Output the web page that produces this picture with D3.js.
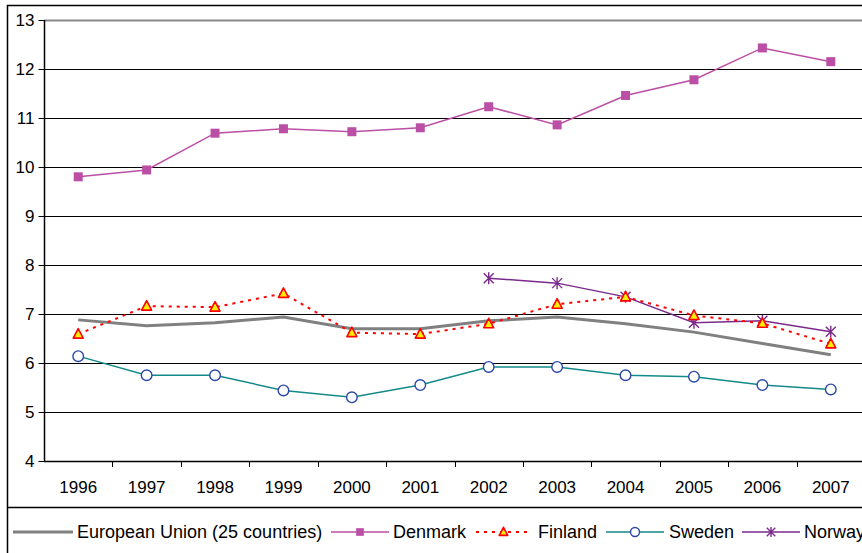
<!DOCTYPE html>
<html><head><meta charset="utf-8">
<script src="https://cdn.jsdelivr.net/npm/d3@7"></script>
<style>body{margin:0;background:#fff}svg{display:block}text{font-family:"Liberation Sans",Arial,sans-serif}</style>
</head><body>
<svg id="c" width="862" height="553"></svg>
<script>
const years = ["1996","1997","1998","1999","2000","2001","2002","2003","2004","2005","2006","2007"];
const yTicks = [4,5,6,7,8,9,10,11,12,13];
const eu      = [6.88,6.76,6.82,6.94,6.70,6.70,6.86,6.94,6.80,6.63,6.40,6.17];
const denmark = [9.80,9.94,10.69,10.78,10.72,10.80,11.23,10.86,11.46,11.78,12.43,12.15];
const finland = [6.59,7.16,7.14,7.42,6.62,6.59,6.80,7.20,7.35,6.97,6.81,6.39];
const sweden  = [6.14,5.75,5.75,5.44,5.30,5.55,5.92,5.92,5.75,5.72,5.55,5.46];
const norway  = [null,null,null,null,null,null,7.73,7.63,7.35,6.82,6.86,6.64];
const seriesNames = ["European Union (25 countries)","Denmark","Finland","Sweden","Norway"];

const svg = d3.select("#c");
const L = 44, T = 20, B = 461, R = 865;
const x = d3.scaleBand().domain(years).range([L, R]);
const y = d3.scaleLinear().domain([4,13]).range([B, T]);

// outer frame
svg.append("path").attr("d","M7.5,553 V5.5 H870").attr("fill","none").attr("stroke","#000").attr("stroke-width",1.5);
svg.append("line").attr("x1",7).attr("x2",870).attr("y1",507.5).attr("y2",507.5).attr("stroke","#000").attr("stroke-width",1.5);

// gridlines
svg.append("g").selectAll("line").data(yTicks.filter(d=>d>4)).join("line")
  .attr("x1",L).attr("x2",R).attr("y1",d=>Math.round(y(d))+0.5).attr("y2",d=>Math.round(y(d))+0.5)
  .attr("stroke",d=>d===13?"#888":"#000").attr("stroke-width",d=>d===13?2:1);

// y axis
const ya = svg.append("g").attr("transform",`translate(${L+0.5},0)`)
  .call(d3.axisLeft(y).tickValues(yTicks).tickSize(6).tickPadding(4).tickFormat(d3.format("d")));
ya.select(".domain").attr("stroke","#000").attr("stroke-width",1.5).attr("d",`M0,${T}V${B}`);
ya.selectAll("text").attr("font-size",17).attr("fill","#000").attr("font-family","Liberation Sans, Arial, sans-serif");
ya.selectAll(".tick line").attr("stroke","#000");

// x axis
const xa = svg.append("g").attr("transform",`translate(0,${B+0.5})`)
  .call(d3.axisBottom(x).tickSize(0).tickPadding(19));
xa.select(".domain").attr("stroke","#000").attr("stroke-width",1.5).attr("d",`M${L},0H${R}`);
xa.selectAll("text").attr("font-size",17).attr("fill","#000").attr("font-family","Liberation Sans, Arial, sans-serif");
svg.append("g").selectAll("line").data(years.slice(1)).join("line")
  .attr("x1",d=>Math.round(x(d))+0.5).attr("x2",d=>Math.round(x(d))+0.5)
  .attr("y1",B).attr("y2",B+6).attr("stroke","#000");

const cx = d => x(d)+x.bandwidth()/2;
const line = d3.line().defined(d=>d.v!=null).x(d=>cx(d.y)).y(d=>y(d.v));
const pts = arr => years.map((yy,i)=>({y:yy,v:arr[i]}));

const DCOL = "#bb4fa5", FCOL = "#ff0000", SL = "#138a89", SM = "#2a47a8", NCOL = "#7a2a8c";

function drawLine(arr, color, w, dash){
  svg.append("path").datum(pts(arr)).attr("d",line).attr("fill","none")
    .attr("stroke",color).attr("stroke-width",w).attr("stroke-dasharray",dash||null);
}
const sq = (g,px,py,s=1)=>g.append("rect").attr("x",px-4.5*s).attr("y",py-4.5*s).attr("width",9*s).attr("height",9*s).attr("fill",DCOL);
const tri = (g,px,py,s=1)=>g.append("path").attr("d",`M${px},${py-5.5*s}L${px+5*s},${py+4*s}L${px-5*s},${py+4*s}Z`).attr("fill","#ffee00").attr("stroke",FCOL).attr("stroke-width",1.6).attr("stroke-linejoin","round");
const circ = (g,px,py,s=1)=>g.append("circle").attr("cx",px).attr("cy",py).attr("r",5.3*s).attr("fill","#fff").attr("stroke",SM).attr("stroke-width",1.4);
const star = (g,px,py,s=1)=>g.append("path").attr("d",`M${px-5*s},${py-5*s}L${px+5*s},${py+5*s}M${px+5*s},${py-5*s}L${px-5*s},${py+5*s}M${px},${py-6*s}V${py+6*s}`).attr("stroke",NCOL).attr("stroke-width",1.4);

function drawMarks(arr, fn){
  const g = svg.append("g");
  pts(arr).filter(d=>d.v!=null).forEach(d=>fn(g,cx(d.y),y(d.v)));
}

drawLine(eu,"#808080",3);
drawLine(denmark,DCOL,1.5); drawMarks(denmark,sq);
drawLine(sweden,SL,1.5); drawMarks(sweden,circ);
drawLine(norway,NCOL,1.5); drawMarks(norway,star);
drawLine(finland,FCOL,2,"3,5"); drawMarks(finland,tri);

// legend
const ly = 532;
const leg = svg.append("g");
const items = [
  {x1:13,x2:73,tx:77,color:"#808080",w:3,m:null},
  {x1:331,x2:389,tx:393,color:DCOL,w:1.5,m:sq},
  {x1:476,x2:531,tx:538,color:FCOL,w:2,dash:"3,5",m:tri},
  {x1:606,x2:664,tx:669,color:SL,w:1.5,m:circ},
  {x1:742,x2:800,tx:804,color:NCOL,w:1.5,m:star}
];
items.forEach((it,i)=>{
  leg.append("line").attr("x1",it.x1).attr("x2",it.x2).attr("y1",ly).attr("y2",ly)
    .attr("stroke",it.color).attr("stroke-width",it.w).attr("stroke-dasharray",it.dash||null);
  if(it.m){ const g=leg.append("g"); it.m(g,(it.x1+it.x2)/2,ly,0.85); }
  leg.append("text").attr("x",it.tx).attr("y",ly).attr("dy","0.36em").attr("font-size",18).attr("fill","#000").text(seriesNames[i]);
});
</script>
</body></html>
